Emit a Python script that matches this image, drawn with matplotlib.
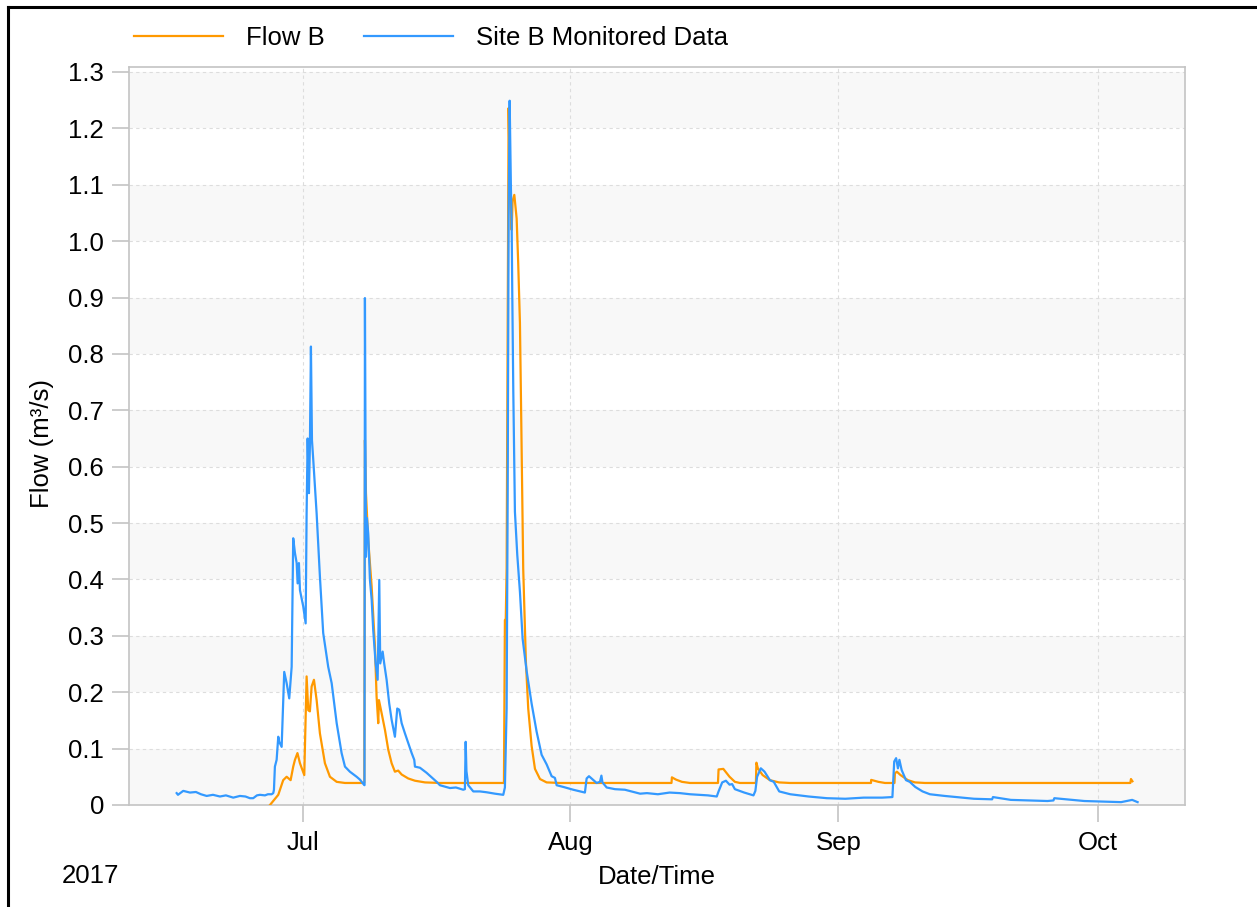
import numpy as np
import matplotlib
matplotlib.use("Agg")
import matplotlib.pyplot as plt
import matplotlib.dates as mdates
from matplotlib.ticker import FuncFormatter
from matplotlib.lines import Line2D

plt.rcParams['font.family'] = ['Liberation Sans', 'DejaVu Sans']

# Time axis: days since 2017-07-01 00:00
BASE = np.datetime64('2017-07-01T00:00')

# Modelled flow (m3/s)
flow_b_days = [
    -3.78, -2.82, -2.25, -1.85, -1.39, -1.09, -0.89, -0.60, -0.31, 0.19,
    0.46, 0.65, 0.84, 1.04, 1.31, 1.62, 2.00, 2.58, 3.16, 3.94,
    4.90, 7.14, 7.21, 7.33, 7.59, 7.99, 8.37, 8.56, 8.75, 8.83,
    9.14, 9.53, 9.91, 10.30, 10.68, 11.06, 11.46, 12.22, 13.00, 14.16,
    15.89, 23.30, 23.41, 23.51, 23.61, 23.76, 23.84, 23.99, 24.19, 24.30,
    24.50, 24.77, 24.95, 25.15, 25.27, 25.53, 25.84, 26.11, 26.50, 26.89,
    27.47, 28.24, 29.78, 42.69, 42.74, 43.21, 43.90, 44.83, 48.07, 48.14,
    48.69, 49.41, 50.03, 50.61, 52.46, 52.52, 52.69, 53.24, 54.08, 55.13,
    56.40, 65.78, 65.80, 66.64, 67.40, 68.50, 68.55, 68.78, 69.20, 70.05,
    70.87, 72.03, 95.80, 95.87, 96.04,
]
flow_b_vals = [
    0.000, 0.018, 0.044, 0.050, 0.044, 0.068, 0.080, 0.092, 0.074, 0.053,
    0.228, 0.168, 0.166, 0.210, 0.222, 0.186, 0.127, 0.074, 0.050, 0.041,
    0.039, 0.039, 0.647, 0.553, 0.470, 0.387, 0.281, 0.192, 0.145, 0.186,
    0.163, 0.133, 0.098, 0.074, 0.059, 0.061, 0.054, 0.047, 0.043, 0.040,
    0.039, 0.039, 0.328, 0.330, 0.420, 0.950, 1.236, 1.100, 1.020, 1.071,
    1.082, 1.040, 0.961, 0.855, 0.720, 0.419, 0.254, 0.171, 0.105, 0.064,
    0.046, 0.040, 0.039, 0.039, 0.049, 0.045, 0.041, 0.039, 0.039, 0.063,
    0.064, 0.050, 0.041, 0.039, 0.039, 0.075, 0.065, 0.053, 0.044, 0.040,
    0.039, 0.039, 0.0445, 0.041, 0.039, 0.039, 0.056, 0.059, 0.053, 0.044,
    0.040, 0.039, 0.039, 0.046, 0.042,
]

# Monitored flow at Site B (m3/s)
site_b_days = [
    -14.58, -14.43, -13.82, -13.04, -12.35, -11.77, -11.11, -10.38, -9.57, -8.88,
    -8.03, -7.26, -6.62, -6.10, -5.72, -5.29, -4.94, -4.36, -4.02, -3.59,
    -3.40, -3.32, -3.21, -3.01, -2.82, -2.71, -2.43, -2.13, -1.85, -1.55,
    -1.27, -1.09, -0.89, -0.69, -0.58, -0.43, -0.31, 0.07, 0.35, 0.46,
    0.58, 0.73, 0.84, 0.96, 1.08, 1.23, 1.62, 2.00, 2.38, 2.96,
    3.36, 3.94, 4.51, 4.90, 5.47, 6.25, 6.63, 7.04, 7.16, 7.21,
    7.33, 7.44, 7.59, 7.79, 7.99, 8.17, 8.45, 8.68, 8.87, 8.98,
    9.26, 9.44, 9.72, 10.02, 10.30, 10.68, 10.95, 11.18, 11.46, 11.84,
    12.22, 12.62, 12.92, 13.00, 13.58, 14.35, 15.51, 15.89, 17.05, 17.74,
    18.59, 18.78, 18.87, 18.96, 19.17, 19.75, 20.52, 21.30, 22.26, 23.22,
    23.41, 23.61, 23.73, 23.84, 23.96, 24.11, 24.19, 24.26, 24.38, 24.57,
    24.84, 25.15, 25.46, 25.93, 26.50, 27.08, 27.66, 28.24, 28.82, 29.20,
    29.40, 30.16, 31.32, 32.67, 32.87, 33.14, 34.03, 34.41, 34.58, 34.70,
    35.19, 36.15, 37.30, 39.06, 39.85, 41.12, 42.47, 43.67, 44.83, 45.80,
    46.91, 47.93, 48.14, 48.56, 48.99, 49.41, 49.71, 50.03, 51.11, 52.18,
    52.40, 52.60, 53.03, 53.46, 54.08, 54.53, 55.16, 56.44, 58.56, 60.68,
    62.81, 64.94, 67.07, 68.26, 68.47, 68.69, 68.90, 69.07, 69.33, 69.83,
    70.27, 70.90, 71.75, 72.60, 74.31, 77.70, 79.80, 79.90, 81.97, 84.00,
    86.21, 86.90, 87.00, 90.47, 94.73, 96.01, 96.64,
]
site_b_vals = [
    0.021, 0.018, 0.025, 0.022, 0.023, 0.019, 0.016, 0.018, 0.015, 0.017,
    0.013, 0.016, 0.015, 0.012, 0.012, 0.017, 0.018, 0.017, 0.019, 0.019,
    0.021, 0.027, 0.068, 0.080, 0.121, 0.112, 0.103, 0.236, 0.216, 0.189,
    0.245, 0.473, 0.447, 0.429, 0.393, 0.429, 0.381, 0.352, 0.322, 0.517,
    0.650, 0.553, 0.636, 0.813, 0.647, 0.612, 0.517, 0.405, 0.305, 0.245,
    0.216, 0.145, 0.092, 0.068, 0.059, 0.050, 0.045, 0.037, 0.035, 0.899,
    0.440, 0.509, 0.482, 0.399, 0.364, 0.310, 0.251, 0.222, 0.399, 0.251,
    0.272, 0.251, 0.222, 0.180, 0.151, 0.121, 0.171, 0.169, 0.145, 0.127,
    0.110, 0.092, 0.080, 0.068, 0.066, 0.057, 0.041, 0.035, 0.030, 0.031,
    0.027, 0.028, 0.112, 0.060, 0.035, 0.024, 0.024, 0.0225, 0.020, 0.018,
    0.031, 0.171, 0.543, 1.038, 1.249, 1.091, 1.032, 0.913, 0.736, 0.520,
    0.444, 0.378, 0.295, 0.237, 0.180, 0.130, 0.089, 0.072, 0.051, 0.048,
    0.035, 0.032, 0.027, 0.022, 0.047, 0.051, 0.039, 0.041, 0.052, 0.040,
    0.031, 0.028, 0.027, 0.020, 0.021, 0.019, 0.022, 0.021, 0.019, 0.018,
    0.017, 0.015, 0.024, 0.040, 0.043, 0.036, 0.037, 0.028, 0.022, 0.017,
    0.025, 0.050, 0.065, 0.059, 0.044, 0.041, 0.024, 0.019, 0.015, 0.012,
    0.011, 0.013, 0.013, 0.014, 0.077, 0.083, 0.065, 0.080, 0.062, 0.044,
    0.041, 0.032, 0.024, 0.019, 0.016, 0.011, 0.010, 0.014, 0.009, 0.008,
    0.007, 0.008, 0.012, 0.007, 0.005, 0.009, 0.005,
]

y_ticks = [0.0, 0.1, 0.2, 0.3, 0.4, 0.5, 0.6, 0.7, 0.8, 0.9, 1.0, 1.1, 1.2, 1.3]


def to_time(days):
    secs = np.round(np.asarray(days) * 86400).astype('timedelta64[s]')
    return BASE + secs


def flow_fmt(v, pos):
    return '0' if abs(v) < 1e-9 else '%.1f' % v


FS = 18.5
ORANGE = '#FF9900'
BLUE = '#3399FF'
LIGHT = '#C4C4C4'

fig = plt.figure(figsize=(12.57, 9.07), dpi=100)
ax = fig.add_axes([0.1026, 0.1125, 0.8405, 0.814])

ax.set_ylim(0, 1.3094)
ax.set_xlim(to_time([-20.10])[0], to_time([102.18])[0])

# alternating horizontal bands
for lo in np.arange(0.0, 1.31, 0.2):
    ax.axhspan(lo, min(lo + 0.1, 1.3094), color='#F8F8F8', zorder=0, lw=0)

ax.plot(to_time(flow_b_days), flow_b_vals, color=ORANGE, lw=1.6,
        label='Flow B', zorder=3)
ax.plot(to_time(site_b_days), site_b_vals, color=BLUE, lw=1.6,
        label='Site B Monitored Data', zorder=4)

ax.set_yticks(y_ticks)
ax.yaxis.set_major_formatter(FuncFormatter(flow_fmt))
ax.xaxis.set_major_locator(mdates.MonthLocator())
ax.xaxis.set_major_formatter(mdates.DateFormatter('%b'))

ax.grid(True, color='#DDDDDD', linestyle=(0, (3, 3)), linewidth=0.8)
ax.set_axisbelow(True)
for s in ax.spines.values():
    s.set_color(LIGHT)
    s.set_linewidth(1.2)

ax.tick_params(axis='both', colors=LIGHT, labelcolor='black', labelsize=FS,
               length=12, width=1.2)
ax.tick_params(axis='y', pad=6)
ax.tick_params(axis='x', pad=7)

ax.set_ylabel('Flow (m³/s)', fontsize=FS)
ax.yaxis.set_label_coords(-0.071, 0.49)
ax.set_xlabel('Date/Time', fontsize=FS)
ax.xaxis.set_label_coords(0.5, -0.081)
fig.text(90 / 1257, 1 - 876 / 907, '2017', fontsize=FS, ha='center', va='center')

ax.legend(loc='center left', bbox_to_anchor=(0.1065, 1 - 38 / 907),
          bbox_transform=fig.transFigure, ncol=2, frameon=False,
          fontsize=FS, handlelength=3.45, handletextpad=0.9,
          columnspacing=1.55, borderaxespad=0, borderpad=0)

# outer frame
fig.add_artist(Line2D([8 / 1257, 8 / 1257], [-0.1, 1 - 7 / 907],
                      transform=fig.transFigure, color='black', lw=2.2))
fig.add_artist(Line2D([8 / 1257, 1.1], [1 - 7 / 907, 1 - 7 / 907],
                      transform=fig.transFigure, color='black', lw=2.2))

fig.savefig('out.png', dpi=100)
